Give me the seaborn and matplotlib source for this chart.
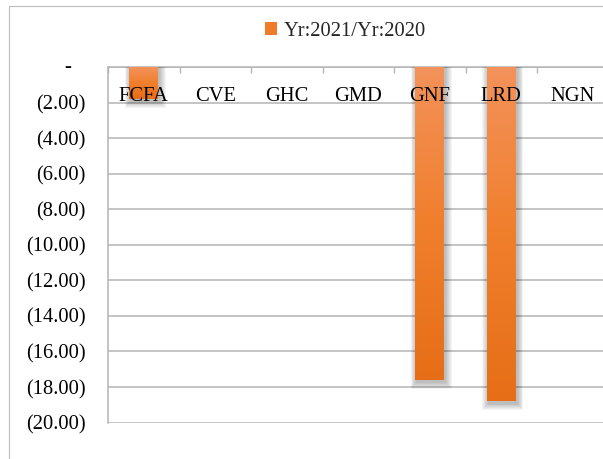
import numpy as np
import pandas as pd
import matplotlib
matplotlib.use("Agg")
import matplotlib.pyplot as plt
import matplotlib.transforms as mtransforms
from matplotlib.colors import LinearSegmentedColormap
from matplotlib.patches import Patch, Rectangle
import seaborn as sns

# Exchange-rate change per currency, 2021 relative to 2020
currencies = ["FCFA", "CVE", "GHC", "GMD", "GNF", "LRD", "NGN"]
change = [-1.8, 0.0, 0.0, 0.0, -17.6, -18.8, 0.0]
series_name = "Yr:2021/Yr:2020"
y_ticks = [0, -2, -4, -6, -8, -10, -12, -14, -16, -18, -20]

sns.set_style("white")
plt.rcParams["font.family"] = ["Liberation Serif", "DejaVu Serif"]

FS = 14.8
GRID = "#B4B4B4"
W_PX, H_PX = 603, 459

fig = plt.figure(figsize=(W_PX / 100, H_PX / 100), dpi=100)

# plot area in pixels: left 108, top 67, 71.5 px per category, 17.775 px per unit
left_px, top_px, cat_px, bottom_px = 108, 67, 71.5, 422.5
ax = fig.add_axes([left_px / W_PX, 1 - bottom_px / H_PX,
                   cat_px * len(currencies) / W_PX, (bottom_px - top_px) / H_PX])

df = pd.DataFrame({"currency": currencies, "change": change})
sns.barplot(data=df, x="currency", y="change", width=0.4, color="#EF7B2B",
            saturation=1, linewidth=0, edgecolor="none", ax=ax, zorder=2)

ax.set_xlim(-0.5, len(currencies) - 0.5)
ax.set_ylim(-20, 0)
ax.set_xlabel("")
ax.set_ylabel("")

# px -> data units
px_x = 1 / cat_px
px_y = 20 / (bottom_px - top_px)

cmap = LinearSegmentedColormap.from_list("bar", ["#F3925B", "#F07F2C", "#E66E17"])
grad = np.linspace(0, 1, 256).reshape(-1, 1)

for p in list(ax.patches):
    h = p.get_height()
    if h == 0:
        p.set_visible(False)
        continue
    x0, w = p.get_x(), p.get_width()
    y_bot = min(h, 0)
    # soft drop shadow
    for k in range(1, 8):
        e = k * 0.9
        ax.add_patch(Rectangle((x0 - e * px_x + 1.5 * px_x, y_bot - e * px_y - 2.5 * px_y),
                               w + 2 * e * px_x, -y_bot + e * px_y + 2.5 * px_y,
                               facecolor="black", edgecolor="none", linewidth=0,
                               alpha=0.04, zorder=1.5))
    im = ax.imshow(grad, cmap=cmap, aspect="auto", origin="upper",
                   extent=[x0, x0 + w, y_bot, 0], zorder=2.1)
    im.set_clip_path(p)

ax.set_xlim(-0.5, len(currencies) - 0.5)
ax.set_ylim(-20, 0)

# axes styling
for s in ["right", "bottom"]:
    ax.spines[s].set_visible(False)
for s in ["left", "top"]:
    ax.spines[s].set_color(GRID)
    ax.spines[s].set_linewidth(1.1)
    ax.spines[s].set_zorder(1)

ax.set_yticks(y_ticks)
ax.yaxis.set_major_formatter(
    plt.FuncFormatter(lambda v, pos: "" if v == 0 else f"({abs(v):.2f})"))
ax.tick_params(axis="y", direction="out", length=5.6, width=1.0, color=GRID,
               pad=10.5, labelsize=FS, labelcolor="black")
ax.grid(axis="y", color=GRID, linewidth=1.1)
ax.grid(axis="x", visible=False)
ax.set_axisbelow(True)
ax.text(-0.081, 0, "-", transform=mtransforms.blended_transform_factory(ax.transAxes, ax.transData),
        ha="center", va="center", fontsize=FS, color="black")

# category labels sit just below the zero line
ax.set_xticks(range(len(currencies)))
ax.tick_params(axis="x", which="major", bottom=False, top=False,
               labelbottom=False, labeltop=False)
ax.set_xticks(np.arange(-0.5, len(currencies), 1), minor=True)
ax.tick_params(axis="x", which="minor", bottom=False, top=True, direction="in",
               length=4.3, width=1.0, color=GRID)
label_y = -(96.5 - top_px) * px_y
for i, c in enumerate(currencies):
    ax.text(i, label_y, c, ha="center", va="center", fontsize=FS,
            color="black", zorder=5)

# legend
fig.legend(handles=[Patch(facecolor="#EF7B2B", edgecolor="none", label=series_name)],
           loc="center", bbox_to_anchor=(0.573, 0.932), frameon=False,
           fontsize=FS, handlelength=0.6, handleheight=0.6, handletextpad=0.3)

# chart border
fig.add_artist(Rectangle((8.5 / W_PX, -0.1), 1.2, 0.1 + 1 - 6.5 / H_PX,
                         transform=fig.transFigure, facecolor="none",
                         edgecolor="#BDBDBD", linewidth=0.8))

fig.savefig("out.png", dpi=100)
